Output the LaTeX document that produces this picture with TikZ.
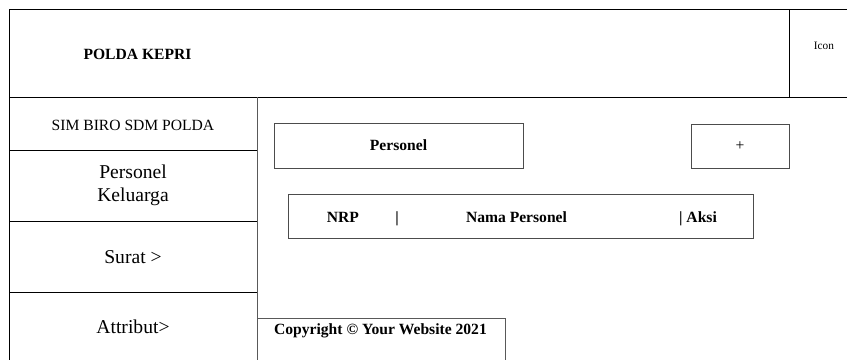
\documentclass[tikz,border=0pt]{standalone}
\usepackage{fontspec}
\setmainfont{Liberation Serif}
\begin{document}
\begin{tikzpicture}[x=1pt,y=-1pt,
  frame/.style={draw=black, line width=1pt},
  soft/.style={draw=black!65, line width=1pt},
  box/.style={draw=black!70, line width=1pt, rectangle, inner sep=0pt},
  lbl/.style={font=\fontsize{15.6}{18}\selectfont\bfseries},
  small/.style={font=\fontsize{15.6}{18}\selectfont},
  menu/.style={font=\fontsize{19.6}{23}\selectfont, align=center},
  tiny/.style={font=\fontsize{11.3}{13}\selectfont}]
\useasboundingbox (0,0) rectangle (847,360);

% header bar
\coordinate (hTL) at (9,9);
\coordinate (hTR) at (847,9);
\coordinate (hBL) at (9,97);
\coordinate (hBR) at (847,97);
\coordinate (iconT) at (789,9);
\coordinate (iconB) at (789,97);
\coordinate (sideB) at (9,360);
\draw[frame] (hTR) -- (hTL) -- (sideB);
\draw[frame] (hBL) -- (hBR);
\draw[frame] (iconT) -- (iconB);
\node[lbl] (brand) at (137.5,54) {POLDA KEPRI};
\node[tiny] (icon) at (824,46) {Icon};

% sidebar
\coordinate (sR0) at (257,97);
\coordinate (sR1) at (257,360);
\draw[soft] (sR0) -- (sR1);
\coordinate (d1L) at (9,150);  \coordinate (d1R) at (257,150);
\coordinate (d2L) at (9,221);  \coordinate (d2R) at (257,221);
\coordinate (d3L) at (9,292);  \coordinate (d3R) at (257,292);
\draw[frame] (d1L) -- (d1R);
\draw[frame] (d2L) -- (d2R);
\draw[frame] (d3L) -- (d3R);
\node[small] (sim) at (133,125) {SIM BIRO SDM POLDA};
\node[menu] (personel) at (133,185) {Personel\\Keluarga};
\node[menu] (surat) at (133,257) {Surat >};
\node[menu] (attr) at (133,327) {Attribut>};

% content area
\node[box, lbl, minimum width=249pt, minimum height=45pt] (title) at (398.5,145.5) {Personel};
\node[box, small, minimum width=98pt, minimum height=44pt] (add) at (740,146) {+};
\node[box, minimum width=465pt, minimum height=44pt] (table) at (520.5,216) {};
\node[lbl, anchor=base] (nrp) at (343,222) {NRP};
\node[lbl, anchor=base] (sep) at (397,222) {|};
\node[lbl, anchor=base] (nama) at (516.5,222) {Nama Personel};
\node[lbl, anchor=base] (aksi) at (698,222) {| Aksi};

% footer
\coordinate (fL) at (257,318);
\coordinate (fR) at (505,318);
\coordinate (fB) at (505,360);
\draw[soft] (fL) -- (fR) -- (fB);
\node[lbl, anchor=base] (copy) at (380.5,334) {Copyright © Your Website 2021};
\end{tikzpicture}
\end{document}
